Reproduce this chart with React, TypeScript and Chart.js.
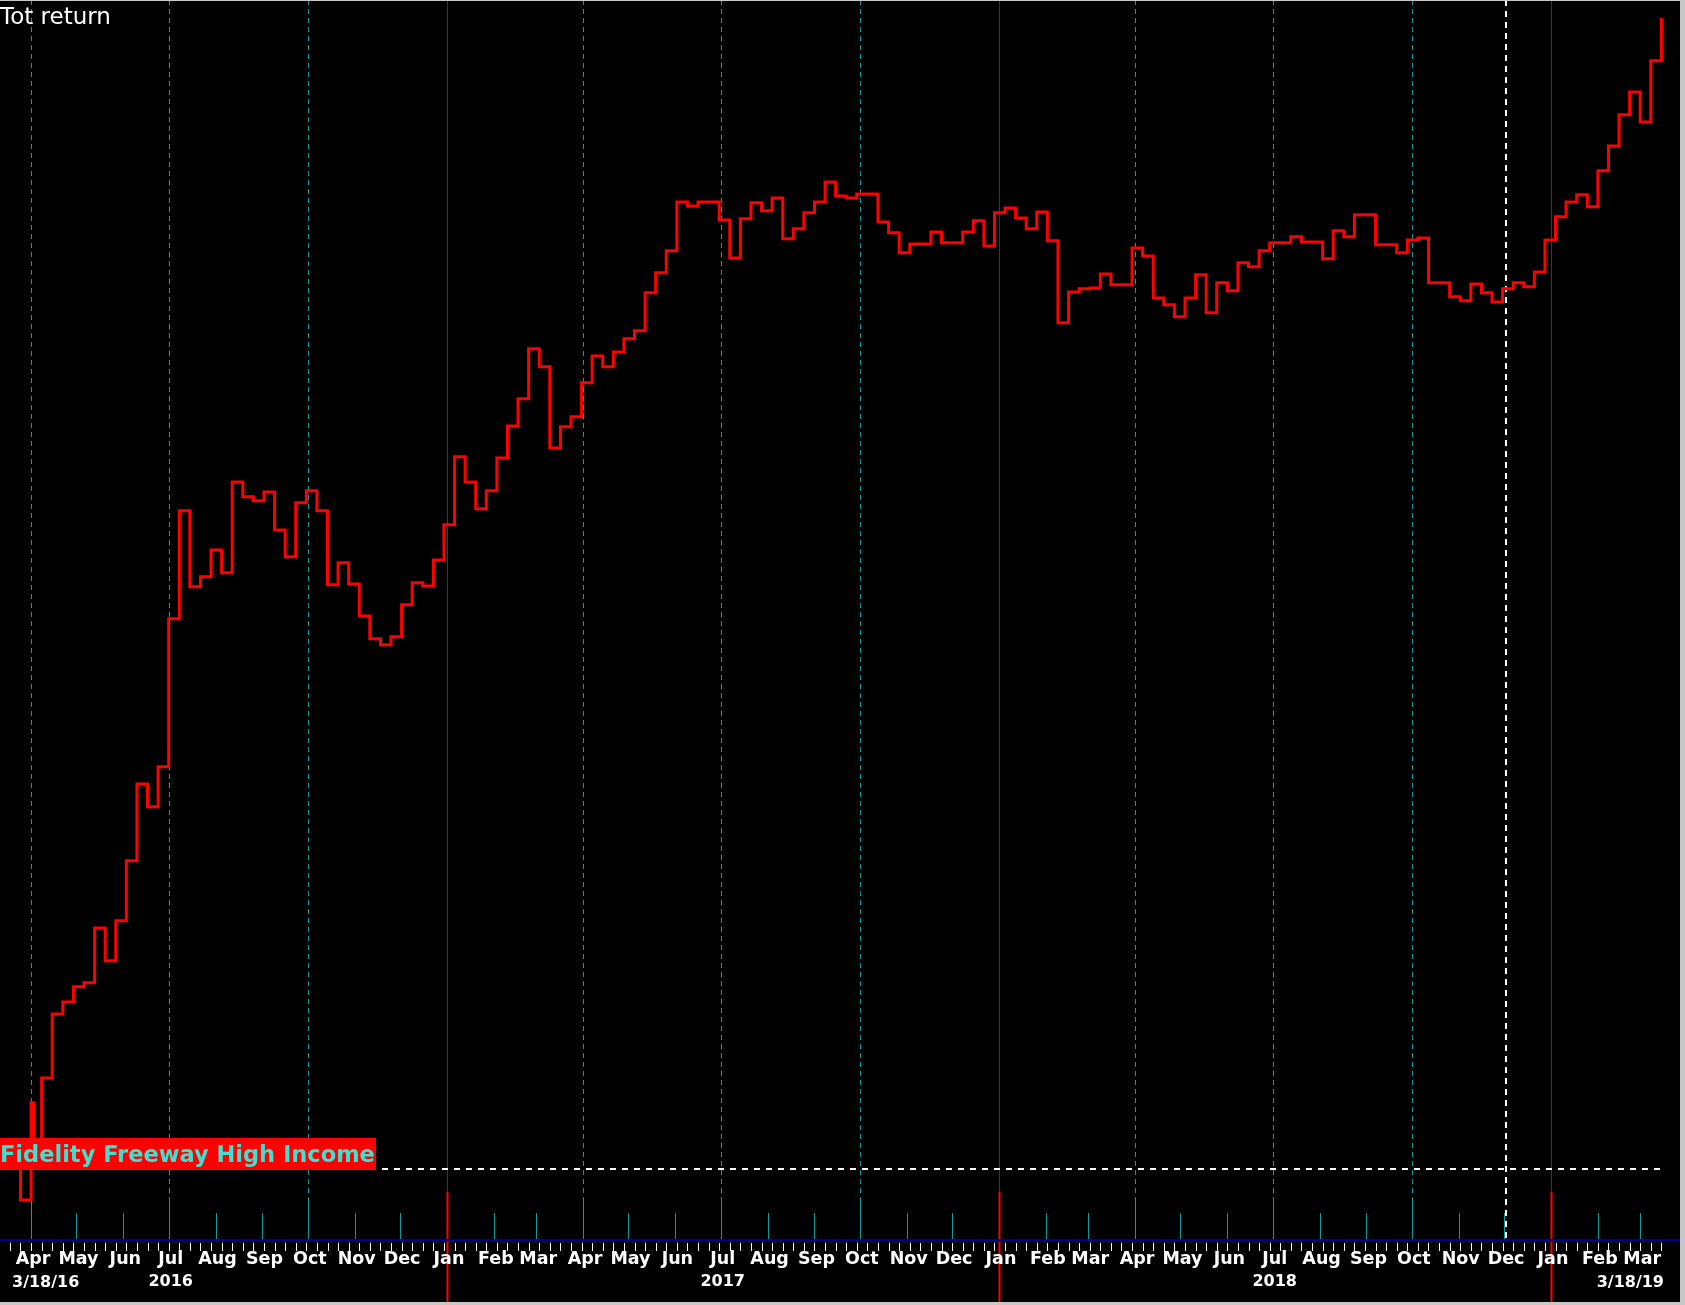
import React, { useEffect, useRef } from 'react';
import { Chart, registerables } from 'chart.js';

Chart.register(...registerables);

// ---------- data ----------
const TITLE = 'Tot return';
const SERIES_NAME = 'Fidelity Freeway High Income';
const START_LABEL = '3/18/16';
const END_LABEL = '3/18/19';
const START_DATE = Date.UTC(2016, 2, 18);
const CURSOR_DATE = Date.UTC(2018, 11, 2);
const MONTH_NAMES = ['Jan', 'Feb', 'Mar', 'Apr', 'May', 'Jun', 'Jul', 'Aug', 'Sep', 'Oct', 'Nov', 'Dec'];
const YEAR_LABELS = ['2016', '2017', '2018'];
const FIRST_MONTH = { year: 2016, month: 3 }; // Apr 2016
const MONTH_COUNT = 36; // Apr 2016 .. Mar 2019

// weekly total return (%) since 3/18/16, one value per week
const weeklyReturn = [
  0.0, -0.8, 1.63, 2.25, 3.85, 4.15, 4.53, 4.63, 6.0, 5.18,
  6.18, 7.68, 9.6, 9.03, 10.03, 13.73, 16.43, 14.53, 14.78, 15.45,
  14.88, 17.15, 16.78, 16.68, 16.9, 15.95, 15.28, 16.63, 16.93, 16.43,
  14.58, 15.13, 14.6, 13.8, 13.23, 13.08, 13.28, 14.08, 14.63, 14.55,
  15.2, 16.08, 17.78, 17.15, 16.48, 16.93, 17.75, 18.55, 19.23, 20.48,
  20.03, 18.0, 18.53, 18.78, 19.63, 20.3, 20.03, 20.4, 20.73, 20.93,
  21.88, 22.38, 22.93, 24.15, 24.05, 24.15, 24.15, 23.7, 22.75, 23.73,
  24.13, 23.93, 24.25, 23.23, 23.48, 23.88, 24.15, 24.65, 24.3, 24.25,
  24.35, 24.35, 23.65, 23.38, 22.88, 23.1, 23.1, 23.4, 23.13, 23.13,
  23.4, 23.68, 23.05, 23.88, 24.0, 23.75, 23.48, 23.9, 23.18, 21.13,
  21.9, 21.98, 22.0, 22.35, 22.08, 22.08, 23.0, 22.8, 21.75, 21.58,
  21.28, 21.75, 22.33, 21.38, 22.13, 21.93, 22.63, 22.53, 22.93, 23.13,
  23.13, 23.28, 23.15, 23.15, 22.73, 23.43, 23.28, 23.83, 23.83, 23.08,
  23.08, 22.88, 23.2, 23.25, 22.13, 22.13, 21.78, 21.68, 22.1, 21.88,
  21.65, 21.98, 22.13, 22.03, 22.4, 23.2, 23.78, 24.15, 24.33, 24.03,
  24.93, 25.55, 26.33, 26.9, 26.15, 27.68, 28.75,
];

// a brief mid-week reading in the first weeks (day offset, value)
const extraDays = [16];
const extraValues = [0.45];

const DAY_MS = 86400000;
const dayOf = (t: number) => (t - START_DATE) / DAY_MS;

function buildPoints() {
  const pts = weeklyReturn.map((v, i) => ({ x: i * 7, y: v }));
  extraDays.forEach((d, j) => pts.push({ x: d, y: extraValues[j] }));
  pts.sort((a, b) => a.x - b.x);
  return pts;
}

function monthStarts() {
  const out: { day: number; month: number; year: number }[] = [];
  for (let i = 0; i < MONTH_COUNT; i++) {
    const m = (FIRST_MONTH.month + i) % 12;
    const y = FIRST_MONTH.year + Math.floor((FIRST_MONTH.month + i) / 12);
    out.push({ day: dayOf(Date.UTC(y, m, 1)), month: m, year: y });
  }
  return out;
}

const TEAL = '#139a9a';

const decor = {
  id: 'decor',
  beforeDraw(chart: any) {
    const { ctx, width, height } = chart;
    ctx.save();
    ctx.fillStyle = '#000';
    ctx.fillRect(0, 0, width, height);
    ctx.restore();
  },
  beforeDatasetsDraw(chart: any) {
    const { ctx, chartArea: a, scales, height } = chart;
    const xs = scales.x;
    const ys = scales.y;
    const axisY = Math.round(a.bottom);
    ctx.save();
    const months = monthStarts();
    for (const m of months) {
      const px = Math.round(xs.getPixelForValue(m.day)) + 0.5;
      if (m.month === 0) {
        ctx.setLineDash([]);
        ctx.strokeStyle = '#c00000';
        ctx.lineWidth = 1;
        ctx.beginPath();
        ctx.moveTo(px, 0);
        ctx.lineTo(px, axisY - 48);
        ctx.stroke();
        ctx.strokeStyle = '#ff0000';
        ctx.lineWidth = 2;
        ctx.beginPath();
        ctx.moveTo(px, axisY - 48);
        ctx.lineTo(px, height);
        ctx.stroke();
      } else if (m.month % 3 === 0) {
        ctx.strokeStyle = TEAL;
        ctx.lineWidth = 1;
        ctx.setLineDash([5, 4]);
        ctx.beginPath();
        ctx.moveTo(px, 0);
        ctx.lineTo(px, axisY - 39);
        ctx.stroke();
        ctx.setLineDash([]);
        ctx.beginPath();
        ctx.moveTo(px, axisY - 39);
        ctx.lineTo(px, axisY);
        ctx.stroke();
      } else {
        ctx.strokeStyle = TEAL;
        ctx.lineWidth = 1;
        ctx.setLineDash([]);
        ctx.beginPath();
        ctx.moveTo(px, axisY - 27);
        ctx.lineTo(px, axisY);
        ctx.stroke();
      }
    }

    // cursor line
    const cx = Math.round(xs.getPixelForValue(dayOf(CURSOR_DATE)));
    ctx.strokeStyle = '#ffffff';
    ctx.lineWidth = 2;
    ctx.setLineDash([6, 5]);
    ctx.beginPath();
    ctx.moveTo(cx, 0);
    ctx.lineTo(cx, axisY);
    ctx.stroke();

    // zero reference line
    const y0 = Math.round(ys.getPixelForValue(0)) + 1;
    const lastX = xs.getPixelForValue((weeklyReturn.length - 1) * 7);
    ctx.setLineDash([6, 6]);
    ctx.beginPath();
    ctx.moveTo(382, y0);
    ctx.lineTo(lastX, y0);
    ctx.stroke();
    ctx.setLineDash([]);

    // axis line
    ctx.fillStyle = '#00008c';
    ctx.fillRect(0, axisY - 1, a.right, 3);

    // weekly ticks
    ctx.strokeStyle = '#ffffff';
    ctx.lineWidth = 1;
    for (let i = 0; i < weeklyReturn.length; i++) {
      const px = Math.round(xs.getPixelForValue(i * 7)) + 0.5;
      ctx.beginPath();
      ctx.moveTo(px, axisY + 3);
      ctx.lineTo(px, axisY + 11);
      ctx.stroke();
    }

    // month labels
    ctx.fillStyle = '#ffffff';
    ctx.font = 'bold 17.5px "DejaVu Sans"';
    ctx.textAlign = 'center';
    ctx.textBaseline = 'alphabetic';
    for (const m of months) {
      const px = xs.getPixelForValue(m.day) + 2;
      ctx.fillText(MONTH_NAMES[m.month], px, axisY + 24);
    }
    // year labels
    ctx.font = 'bold 16px "DejaVu Sans"';
    for (const yl of YEAR_LABELS) {
      const px = xs.getPixelForValue(dayOf(Date.UTC(Number(yl), 6, 1))) + 2;
      ctx.fillText(yl, px, axisY + 46);
    }
    ctx.textAlign = 'left';
    ctx.fillText(START_LABEL, 12, axisY + 47);
    ctx.textAlign = 'right';
    ctx.fillText(END_LABEL, 1664, axisY + 47);
    ctx.restore();
  },
  afterDatasetsDraw(chart: any) {
    const { ctx, scales, width, height } = chart;
    const ys = scales.y;
    const y0 = Math.round(ys.getPixelForValue(0));
    ctx.save();
    // series label box
    ctx.fillStyle = '#ff0000';
    ctx.fillRect(0, y0 - 30, 376, 32);
    ctx.fillStyle = '#40e0d0';
    ctx.font = 'bold 22.5px "DejaVu Sans"';
    ctx.textAlign = 'left';
    ctx.textBaseline = 'alphabetic';
    ctx.fillText(SERIES_NAME, 0, y0 - 6);
    // title
    ctx.fillStyle = '#ffffff';
    ctx.font = '23px "DejaVu Sans"';
    ctx.fillText(TITLE, 0, 24);
    // window borders
    ctx.fillStyle = '#c8c8c8';
    ctx.fillRect(0, 0, width, 1);
    ctx.fillRect(1680, 0, width - 1680, height);
    ctx.fillRect(0, height - 3, width, 3);
    ctx.restore();
  },
};

export default function App() {
  const ref = useRef<HTMLCanvasElement>(null);
  useEffect(() => {
    document.body.style.margin = '0';
    document.body.style.background = '#000';
    const chart = new Chart(ref.current!, {
      type: 'line',
      data: {
        datasets: [
          {
            label: SERIES_NAME,
            data: buildPoints(),
            borderColor: '#ff0000',
            borderWidth: 3,
            stepped: true,
            fill: false,
            pointRadius: 0,
            borderJoinStyle: 'miter',
            borderCapStyle: 'butt',
          } as any,
        ],
      },
      options: {
        responsive: false,
        animation: false,
        devicePixelRatio: 1,
        layout: { padding: { left: 0, right: 5, top: 0, bottom: 65 } },
        plugins: { legend: { display: false }, tooltip: { enabled: false } },
        scales: {
          x: { type: 'linear', min: -6.55, max: 1104.3, display: false },
          y: { type: 'linear', min: -1.8, max: 29.2, display: false },
        },
      },
      plugins: [decor],
    });
    return () => chart.destroy();
  }, []);
  return (
    <div style={{ position: 'fixed', left: 0, top: 0, width: 1685, height: 1305 }}>
      <canvas ref={ref} width={1685} height={1305} style={{ display: 'block', width: 1685, height: 1305 }} />
    </div>
  );
}
